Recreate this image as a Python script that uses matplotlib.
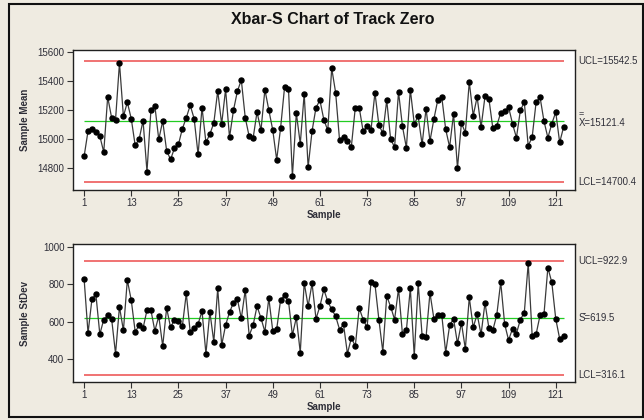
import matplotlib
matplotlib.use("Agg")
import matplotlib.pyplot as plt
from matplotlib.patches import Rectangle

# ---------------- data ----------------
sample_means = [14878, 15054, 15066, 15049, 15019, 14908, 15291, 15147, 15133, 15527,
                15156, 15254, 15140, 14954, 14998, 15126, 14773, 15198, 15230, 14996,
                15124, 14917, 14857, 14936, 14961, 15070, 15147, 15233, 15140,
                14892, 15217, 14975, 15033, 15110, 15333, 15103, 15344, 15010, 15198,
                15330, 15409, 15147, 15017, 15005, 15186, 15059, 15342, 15200, 15061,
                14855, 15077, 15358, 15349, 14741, 15179, 14966, 15312, 14804,
                15054, 15217, 15268, 15133, 15059, 15490, 15321, 14989, 15012, 14985,
                14947, 15217, 15217, 15052, 15087, 15063, 15321, 15096, 15040, 15268,
                14996, 14943, 15326, 15087, 14938, 15342, 15105, 15156, 14961, 15210,
                14985, 15138, 15272, 15291, 15066, 14943, 15175, 14797, 15110, 15043,
                15395, 15161, 15291, 15080, 15295, 15277, 15073, 15091, 15182, 15191,
                15221, 15105, 15008, 15198, 15254, 14952, 15012, 15254, 15291, 15124,
                15008, 15105, 15186, 14975, 15082]

sample_stdevs = [829, 540, 721, 746, 534, 612, 634, 616, 431, 680,
                 554, 822, 715, 547, 581, 566, 662, 662, 552, 630,
                 471, 673, 570, 612, 604, 577, 751, 545, 565,
                 588, 657, 431, 653, 494, 778, 476, 582, 651, 701,
                 721, 618, 769, 527, 582, 683, 620, 547, 726, 552,
                 561, 717, 740, 710, 529, 623, 437, 808, 683,
                 804, 616, 683, 772, 708, 666, 630, 559, 586, 431,
                 515, 471, 673, 612, 570, 811, 801, 612, 442, 737,
                 680, 612, 776, 534, 556, 778, 419, 804, 527, 518,
                 754, 616, 637, 637, 437, 581, 616, 485, 595, 456,
                 730, 570, 641, 533, 701, 566, 556, 637, 811, 588,
                 503, 563, 538, 612, 648, 911, 527, 534, 634, 639,
                 888, 809, 616, 510, 524]

xbar_limits = {"UCL": 15542.5, "CL": 15121.4, "LCL": 14700.4}
s_limits = {"UCL": 922.9, "CL": 619.5, "LCL": 316.1}

x_ticks = [1, 13, 25, 37, 49, 61, 73, 85, 97, 109, 121]
xbar_yticks = [14800, 15000, 15200, 15400, 15600]
s_yticks = [400, 600, 800, 1000]

title = "Xbar-S Chart of Track Zero"

# ---------------- figure ----------------
W, H = 644, 420
BG = "#EFEBE1"
TXT = "#2E2E38"
fig = plt.figure(figsize=(W / 100, H / 100), dpi=100, facecolor=BG)
plt.rcParams["font.family"] = ["Liberation Sans", "DejaVu Sans"]

samples = list(range(1, len(sample_means) + 1))


def px_axes(left, top, right, bottom):
    return fig.add_axes([left / W, 1 - bottom / H, (right - left) / W, (bottom - top) / H])


ax1 = px_axes(72.7, 50, 575, 190)
ax2 = px_axes(72.7, 244, 575, 382)


def style(ax, yticks, ylim, ylabel):
    ax.set_facecolor("white")
    ax.set_xlim(-1.9, 125.9)
    ax.set_ylim(*ylim)
    ax.set_xticks(x_ticks)
    ax.set_yticks(yticks)
    ax.tick_params(direction="out", length=4, width=0.8, colors="#333333",
                   labelsize=7, labelcolor=TXT, pad=2)
    for sp in ax.spines.values():
        sp.set_color("#202020")
        sp.set_linewidth(1.0)
    ax.set_xlabel("Sample", fontsize=7, fontweight="bold", color=TXT, labelpad=1)
    ax.set_ylabel(ylabel, fontsize=7, fontweight="bold", color=TXT, labelpad=6)


def draw(ax, vals, lim):
    n = len(vals)
    ax.hlines([lim["UCL"], lim["LCL"]], 1, n, colors="#EE5A5A", linewidth=1.2, zorder=1)
    ax.hlines(lim["CL"], 1, n, colors="#22CC22", linewidth=0.9, zorder=1)
    ax.plot(samples, vals, color="#3A3A3A", linewidth=0.9, zorder=2)
    ax.plot(samples, vals, linestyle="none", marker="o", markersize=3.6,
            color="black", zorder=3)


draw(ax1, sample_means, xbar_limits)
draw(ax2, sample_stdevs, s_limits)
style(ax1, xbar_yticks, (14645, 15617), "Sample Mean")
style(ax2, s_yticks, (280.4, 1013.4), "Sample StDev")
ax1.yaxis.set_label_coords(-0.085, 0.5)
ax2.yaxis.set_label_coords(-0.085, 0.5)

# right-side limit labels
lx = 578.5 / W
def fy(v, ax):
    return ax.transData.transform((0, v))[1] / H

kw = dict(fontsize=6.9, color=TXT, va="center", ha="left")
fig.text(lx, fy(xbar_limits["UCL"], ax1), "UCL=%.1f" % xbar_limits["UCL"], **kw)
fig.text(lx, fy(xbar_limits["CL"], ax1) - 1.5 / H, "X=%.1f" % xbar_limits["CL"], **kw)
fig.text(lx + 0.5 / W, fy(xbar_limits["CL"], ax1) + 7.5 / H, "=", fontsize=6.5, color=TXT,
         va="center", ha="left")
fig.text(lx, fy(xbar_limits["LCL"], ax1), "LCL=%.1f" % xbar_limits["LCL"], **kw)

fig.text(lx, fy(s_limits["UCL"], ax2), "UCL=%.1f" % s_limits["UCL"], **kw)
fig.text(lx, fy(s_limits["CL"], ax2), "S\u0304=%.1f" % s_limits["CL"], **kw)
fig.text(lx, fy(s_limits["LCL"], ax2), "LCL=%.1f" % s_limits["LCL"], **kw)

fig.text(333 / W, 1 - 19 / H, title, fontsize=11.5, fontweight="bold",
         color="#111111", ha="center", va="center")

# outer frame
fig.patches.append(Rectangle((9 / W, 3 / H), (643 - 9) / W, 1 - 7 / H, transform=fig.transFigure,
                             fill=False, edgecolor="#111111", linewidth=1.5))

fig.savefig("out.png", dpi=100, facecolor=BG)
